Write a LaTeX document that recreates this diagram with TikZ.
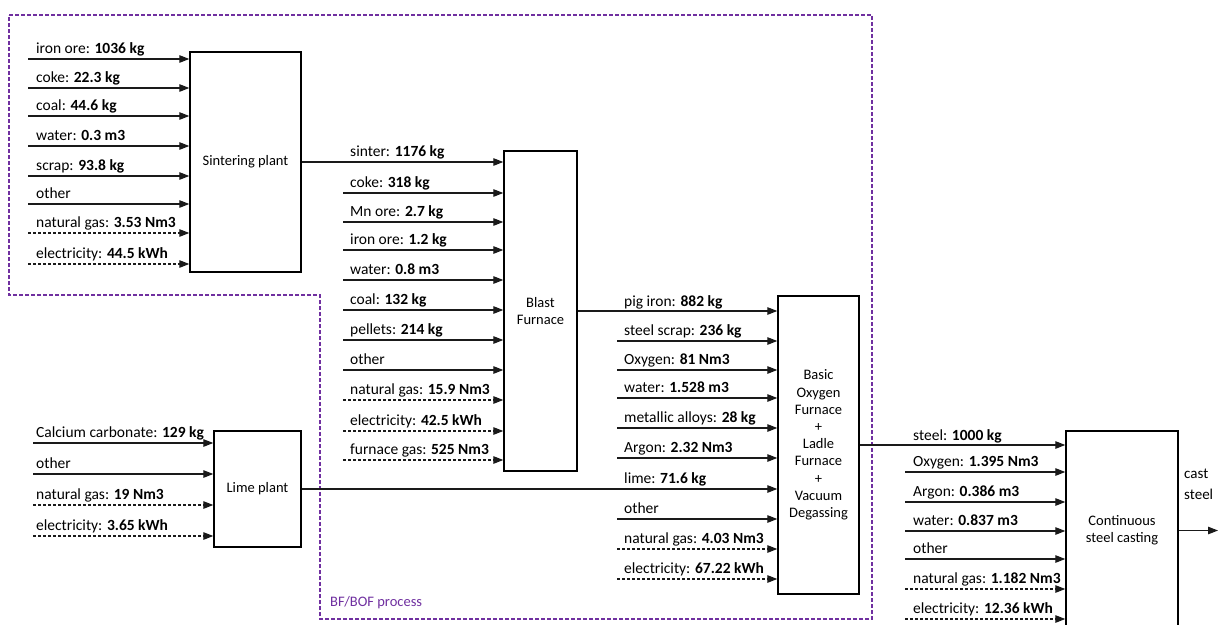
\documentclass[tikz,border=0pt]{standalone}
\usepackage{fontspec}
\setmainfont{Carlito}
\usetikzlibrary{arrows.meta}
\definecolor{regionpurple}{HTML}{7030A0}
\definecolor{linegray}{HTML}{1A1A1A}
\newcommand{\lblfont}{\fontsize{15.5}{18}\selectfont}
\newcommand{\boxfont}{\fontsize{14.5}{17.2}\selectfont}
\begin{document}
\begin{tikzpicture}[x=1pt,y=-1pt,
  flow/.style={draw=linegray, line width=1.2pt, -{Triangle[length=10pt,width=7.5pt]}},
  finedash/.style={dash pattern=on 3pt off 2pt},
  plain/.style={solid},
  procbox/.style={draw=black, line width=1.4pt, fill=white, align=center, font=\boxfont, inner sep=2pt},
  flowlabel/.style={anchor=base west, inner sep=0pt, font=\lblfont, text=black},
  region/.style={draw=regionpurple, line width=1.5pt, dash pattern=on 4pt off 2pt}
]
\clip (0,0) rectangle (1220,624);
\fill[white] (0,0) rectangle (1220,624);

% region
\draw[region] (9,15) -- (872,15) -- (872,619) -- (320,619) -- (320,295) -- (9,295) -- cycle;
\node[anchor=base west, inner sep=0pt, text=regionpurple, font=\fontsize{14.5}{17}\selectfont] (regionlabel) at (330,606) {BF/BOF process};

% boxes
\node[procbox, minimum width=111pt, minimum height=220pt] (sp) at (245.5,162) {Sintering plant};
\node[procbox, minimum width=73pt, minimum height=320pt] (bf) at (540.5,311) {Blast\\Furnace};
\node[procbox, minimum width=81pt, minimum height=298pt] (bof) at (818.5,445) {Basic\\Oxygen\\Furnace\\+\\Ladle\\Furnace\\+\\Vacuum\\Degassing};
\node[procbox, minimum width=87pt, minimum height=116pt] (lime) at (257.5,489) {Lime plant};
\node[procbox, minimum width=112pt, minimum height=199pt] (csc) at (1122,530.5) {Continuous\\steel casting};

% sintering inputs
\foreach \yy/\txt/\sty [count=\i] in {
  59/{iron ore: \textbf{1036 kg}}/plain,
  88/{coke: \textbf{22.3 kg}}/plain,
  116/{coal: \textbf{44.6 kg}}/plain,
  146/{water: \textbf{0.3 m3}}/plain,
  176/{scrap: \textbf{93.8 kg}}/plain,
  204/{other}/plain,
  233/{natural gas: \textbf{3.53 Nm3}}/finedash,
  264/{electricity: \textbf{44.5 kWh}}/finedash}{
  \coordinate (sps\i) at (28,\yy);
  \draw[flow,\sty] (sps\i) -- (sps\i -| sp.west);
  \node[flowlabel] (spl\i) at (36,\yy-5.5) {\txt};
}

% blast furnace inputs
\draw[flow] (sp.east) -- (sp.east -| bf.west);
\node[flowlabel] (sinterl) at (350,162-5.5) {sinter: \textbf{1176 kg}};
\foreach \yy/\txt/\sty [count=\i] in {
  193/{coke: \textbf{318 kg}}/plain,
  222/{Mn ore: \textbf{2.7 kg}}/plain,
  250/{iron ore: \textbf{1.2 kg}}/plain,
  280/{water: \textbf{0.8 m3}}/plain,
  310/{coal: \textbf{132 kg}}/plain,
  340/{pellets: \textbf{214 kg}}/plain,
  370/{other}/plain,
  400/{natural gas: \textbf{15.9 Nm3}}/finedash,
  431/{electricity: \textbf{42.5 kWh}}/finedash,
  460/{furnace gas: \textbf{525 Nm3}}/finedash}{
  \coordinate (bfs\i) at (343,\yy);
  \draw[flow,\sty] (bfs\i) -- (bfs\i -| bf.west);
  \node[flowlabel] (bfl\i) at (350,\yy-5.5) {\txt};
}

% BOF inputs
\draw[flow] (bf.east) -- (bf.east -| bof.west);
\node[flowlabel] (pigl) at (624,312-5.5) {pig iron: \textbf{882 kg}};
\draw[flow] (lime.east) -- (lime.east -| bof.west);
\node[flowlabel] (limel) at (624,489-5.5) {lime: \textbf{71.6 kg}};
\foreach \yy/\txt/\sty [count=\i] in {
  341/{steel scrap: \textbf{236 kg}}/plain,
  370/{Oxygen: \textbf{81 Nm3}}/plain,
  398/{water: \textbf{1.528 m3}}/plain,
  428/{metallic alloys: \textbf{28 kg}}/plain,
  458/{Argon: \textbf{2.32 Nm3}}/plain,
  519/{other}/plain,
  549/{natural gas: \textbf{4.03 Nm3}}/finedash,
  579/{electricity: \textbf{67.22 kWh}}/finedash}{
  \coordinate (bofs\i) at (617,\yy);
  \draw[flow,\sty] (bofs\i) -- (bofs\i -| bof.west);
  \node[flowlabel] (bofl\i) at (624,\yy-5.5) {\txt};
}

% lime inputs
\foreach \yy/\txt/\sty [count=\i] in {
  443/{Calcium carbonate: \textbf{129 kg}}/plain,
  474/{other}/plain,
  505/{natural gas: \textbf{19 Nm3}}/finedash,
  536/{electricity: \textbf{3.65 kWh}}/finedash}{
  \coordinate (lms\i) at (33,\yy);
  \draw[flow,\sty] (lms\i) -- (lms\i -| lime.west);
  \node[flowlabel] (lml\i) at (36,\yy-5.5) {\txt};
}

% casting inputs
\draw[flow] (bof.east) -- (bof.east -| csc.west);
\node[flowlabel] (steell) at (913,446-5.5) {steel: \textbf{1000 kg}};
\foreach \yy/\txt/\sty [count=\i] in {
  472/{Oxygen: \textbf{1.395 Nm3}}/plain,
  502/{Argon: \textbf{0.386 m3}}/plain,
  531/{water: \textbf{0.837 m3}}/plain,
  559/{other}/plain,
  589/{natural gas: \textbf{1.182 Nm3}}/finedash,
  619/{electricity: \textbf{12.36 kWh}}/finedash}{
  \coordinate (cscs\i) at (905,\yy);
  \draw[flow,\sty] (cscs\i) -- (cscs\i -| csc.west);
  \node[flowlabel] (cscl\i) at (913,\yy-5.5) {\txt};
}

% output
\coordinate (castend) at (1218,530.5);
\draw[flow] (csc.east) -- (castend);
\node[anchor=base west, inner sep=0pt, align=left, font=\fontsize{15}{21}\selectfont] (castl) at (1184,499) {cast\\steel};
\end{tikzpicture}
\end{document}
